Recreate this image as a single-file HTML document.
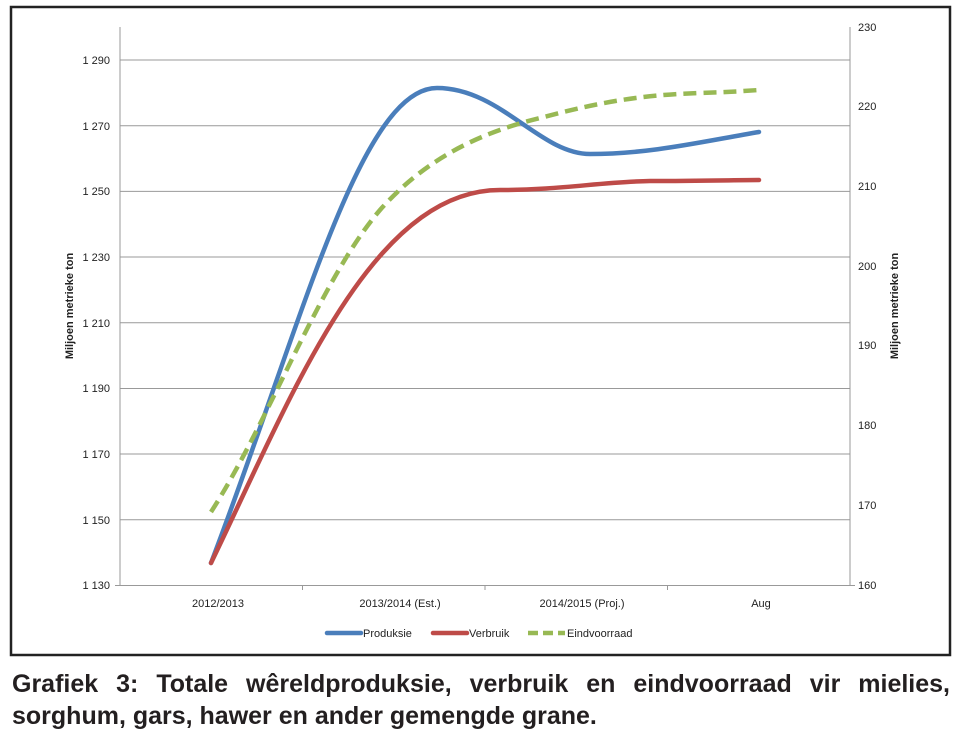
<!DOCTYPE html>
<html><head><meta charset="utf-8"><style>
body{margin:0;background:#fff;width:960px;height:741px;overflow:hidden;font-family:"Liberation Sans",sans-serif}
.cap{position:absolute;left:12px;top:668px;width:938px;font-weight:bold;font-size:25px;line-height:32px;color:#231f20;white-space:nowrap}
.l1{text-align:justify;text-align-last:justify}
</style></head><body>
<svg width="960" height="665" style="position:absolute;left:0;top:0" font-family="Liberation Sans, sans-serif">
<rect x="11" y="7" width="939" height="648" fill="#fff" stroke="#222" stroke-width="2.5"/>
<g stroke="#999" stroke-width="1">
<line x1="120" y1="60" x2="850" y2="60"/><line x1="120" y1="125.7" x2="850" y2="125.7"/>
<line x1="120" y1="191.4" x2="850" y2="191.4"/><line x1="120" y1="257" x2="850" y2="257"/>
<line x1="120" y1="322.8" x2="850" y2="322.8"/><line x1="120" y1="388.5" x2="850" y2="388.5"/>
<line x1="120" y1="454" x2="850" y2="454"/><line x1="120" y1="519.8" x2="850" y2="519.8"/>
<line x1="120" y1="27" x2="120" y2="585"/><line x1="850" y1="27" x2="850" y2="585"/>
<line x1="115" y1="585.5" x2="855" y2="585.5"/>
<line x1="302.5" y1="585" x2="302.5" y2="590"/><line x1="485" y1="585" x2="485" y2="590"/><line x1="667.5" y1="585" x2="667.5" y2="590"/>
</g>
<g font-size="11" fill="#222" text-anchor="end">
<text x="110" y="64">1 290</text><text x="110" y="130">1 270</text><text x="110" y="195">1 250</text><text x="110" y="261">1 230</text>
<text x="110" y="327">1 210</text><text x="110" y="392">1 190</text><text x="110" y="458">1 170</text><text x="110" y="524">1 150</text><text x="110" y="589">1 130</text>
</g>
<g font-size="11" fill="#222">
<text x="858" y="31">230</text><text x="858" y="110">220</text><text x="858" y="190">210</text><text x="858" y="270">200</text>
<text x="858" y="349">190</text><text x="858" y="429">180</text><text x="858" y="509">170</text><text x="858" y="589">160</text>
</g>
<g font-size="11" fill="#222" text-anchor="middle">
<text x="218" y="607">2012/2013</text><text x="400" y="607">2013/2014 (Est.)</text><text x="582" y="607">2014/2015 (Proj.)</text><text x="761" y="607">Aug</text>
</g>
<text font-size="11" font-weight="bold" fill="#222" text-anchor="middle" transform="translate(73,306) rotate(-90)">Miljoen metrieke ton</text>
<text font-size="11" font-weight="bold" fill="#222" text-anchor="middle" transform="translate(898,306) rotate(-90)">Miljoen metrieke ton</text>
<g fill="none" stroke-width="4.5" stroke-linecap="round">
<path d="M211,563 C300,330 360,88 437,88 C500,88 540,154 590,154 C650,154 700,142 759,132" stroke="#4a7ebb"/>
<path d="M211,563 C290,400 370,190 500,190 C560,190 600,182 650,181 C700,181 740,180 759,180" stroke="#be4b48"/>
<path d="M211,512 C270,420 320,280 380,210 C420,165 470,135 540,118 C600,102 640,95 700,93 C730,92 745,91 759,90" stroke="#98b954" stroke-dasharray="13,7" stroke-linecap="butt"/>
</g>
<line x1="327" y1="633" x2="361" y2="633" stroke="#4a7ebb" stroke-width="4.5" stroke-linecap="round"/>
<text x="363" y="637" font-size="11" fill="#222">Produksie</text>
<line x1="433" y1="633" x2="467" y2="633" stroke="#be4b48" stroke-width="4.5" stroke-linecap="round"/>
<text x="469" y="637" font-size="11" fill="#222">Verbruik</text>
<line x1="528" y1="633" x2="565" y2="633" stroke="#98b954" stroke-width="4.5" stroke-dasharray="10,5"/>
<text x="567" y="637" font-size="11" fill="#222">Eindvoorraad</text>
</svg>
<div class="cap"><div class="l1">Grafiek 3: Totale wêreldproduksie, verbruik en eindvoorraad vir mielies,</div><div>sorghum, gars, hawer en ander gemengde grane.</div></div>
</body></html>
